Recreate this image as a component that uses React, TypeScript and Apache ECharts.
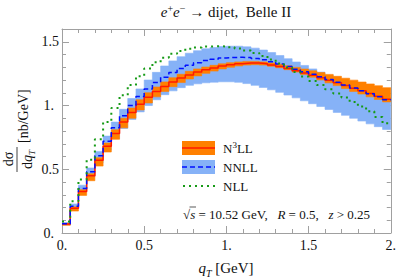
import React, { useEffect, useRef } from 'react';
import * as echarts from 'echarts';

// bin edges of q_T [GeV]
const binEdges: number[] = [
  0, 0.05, 0.1, 0.15, 0.2, 0.25, 0.3, 0.35, 0.4, 0.45, 0.5, 0.55, 0.6, 0.65, 0.7, 0.75, 0.8, 0.85, 0.9, 0.95,
  1.0, 1.05, 1.1, 1.15, 1.2, 1.25, 1.3, 1.35, 1.4, 1.45, 1.5, 1.55, 1.6, 1.65, 1.7, 1.75, 1.8, 1.85, 1.9, 1.95, 2.0,
];

const n3llCentral: number[] = [
  0.07, 0.195, 0.325, 0.45, 0.57, 0.68, 0.78, 0.87, 0.945, 1.01, 1.065, 1.11, 1.15, 1.185, 1.215, 1.24, 1.262, 1.28, 1.295, 1.31,
  1.32, 1.328, 1.333, 1.333, 1.328, 1.318, 1.305, 1.29, 1.272, 1.255, 1.237, 1.218, 1.198, 1.178, 1.157, 1.136, 1.115, 1.094, 1.072, 1.05,
];
const n3llLow: number[] = [
  0.06, 0.172, 0.295, 0.41, 0.525, 0.635, 0.735, 0.825, 0.9, 0.965, 1.02, 1.068, 1.11, 1.148, 1.18, 1.208, 1.232, 1.252, 1.27, 1.287,
  1.3, 1.31, 1.317, 1.32, 1.317, 1.308, 1.296, 1.281, 1.262, 1.243, 1.222, 1.2, 1.178, 1.156, 1.133, 1.11, 1.09, 1.068, 1.047, 1.028,
];
const n3llHigh: number[] = [
  0.076, 0.205, 0.34, 0.465, 0.59, 0.705, 0.81, 0.9, 0.98, 1.045, 1.1, 1.145, 1.185, 1.218, 1.245, 1.268, 1.287, 1.302, 1.315, 1.327,
  1.336, 1.342, 1.346, 1.346, 1.342, 1.334, 1.324, 1.312, 1.299, 1.286, 1.272, 1.258, 1.244, 1.229, 1.214, 1.199, 1.184, 1.169, 1.155, 1.14,
];

const nnllCentral: number[] = [
  0.073, 0.21, 0.35, 0.48, 0.605, 0.72, 0.825, 0.92, 1.0, 1.07, 1.13, 1.18, 1.222, 1.259, 1.29, 1.315, 1.336, 1.352, 1.363, 1.373,
  1.377, 1.378, 1.376, 1.369, 1.358, 1.343, 1.325, 1.306, 1.285, 1.265, 1.245, 1.225, 1.203, 1.182, 1.16, 1.138, 1.115, 1.092, 1.069, 1.045,
];
const nnllLow: number[] = [
  0.065, 0.198, 0.325, 0.44, 0.55, 0.65, 0.74, 0.82, 0.89, 0.95, 1.0, 1.045, 1.085, 1.115, 1.14, 1.158, 1.17, 1.178, 1.183, 1.186,
  1.186, 1.182, 1.172, 1.158, 1.142, 1.123, 1.103, 1.082, 1.06, 1.037, 1.014, 0.992, 0.969, 0.946, 0.923, 0.9, 0.878, 0.856, 0.834, 0.812,
];
const nnllHigh: number[] = [
  0.082, 0.228, 0.375, 0.51, 0.64, 0.76, 0.87, 0.97, 1.055, 1.13, 1.2, 1.26, 1.31, 1.35, 1.383, 1.41, 1.43, 1.445, 1.455, 1.462,
  1.465, 1.465, 1.46, 1.45, 1.435, 1.415, 1.392, 1.367, 1.341, 1.314, 1.287, 1.262, 1.237, 1.212, 1.187, 1.162, 1.137, 1.112, 1.087, 1.062,
];

const nllCentral: number[] = [
  0.09, 0.25, 0.42, 0.575, 0.735, 0.87, 0.98, 1.08, 1.16, 1.23, 1.29, 1.34, 1.375, 1.405, 1.428, 1.445, 1.455, 1.462, 1.465, 1.463,
  1.457, 1.447, 1.432, 1.412, 1.388, 1.36, 1.33, 1.298, 1.263, 1.228, 1.193, 1.16, 1.128, 1.095, 1.062, 1.028, 0.993, 0.955, 0.91, 0.86,
];

const xTickLabels: Record<string, string> = { '0': '0.', '0.5': '0.5', '1': '1.', '1.5': '1.5', '2': '2.' };
const yTickLabels: Record<string, string> = { '0': '{p|0.}', '0.5': '0.5', '1': '{p|1.}', '1.5': '1.5' };

const FONT = 'Liberation Serif';
const FRAME = '#a0a0a0';
const ORANGE = '#ff8000';
const RED = '#ff1a00';
const LIGHTBLUE = '#86b2f7';
const BLUE = '#0010ff';
const GREEN = '#169a16';

function stepData(vals: number[]): number[][] {
  const out: number[][] = vals.map((v, i) => [binEdges[i], v]);
  out.push([binEdges[vals.length], vals[vals.length - 1]]);
  return out;
}

function bandSeries(lo: number[], hi: number[], color: string, z: number) {
  return {
    type: 'custom',
    xAxisIndex: 0,
    yAxisIndex: 0,
    silent: true,
    clip: true,
    z,
    data: [[0, 0]],
    renderItem: (_params: any, api: any) => {
      const pts: number[][] = [];
      for (let i = 0; i < hi.length; i++) {
        pts.push(api.coord([binEdges[i], hi[i]]));
        pts.push(api.coord([binEdges[i + 1], hi[i]]));
      }
      for (let i = lo.length - 1; i >= 0; i--) {
        pts.push(api.coord([binEdges[i + 1], lo[i]]));
        pts.push(api.coord([binEdges[i], lo[i]]));
      }
      return { type: 'polygon', shape: { points: pts }, style: { fill: color, stroke: color, lineWidth: 0.6 } };
    },
  };
}

function xAxisCfg(position: 'bottom' | 'top', labels: boolean) {
  return {
    type: 'value',
    min: 0,
    max: 2,
    interval: 0.5,
    position,
    axisLine: { show: true, onZero: false, lineStyle: { color: FRAME, width: 1 } },
    axisTick: { show: true, inside: true, length: 7, lineStyle: { color: FRAME } },
    minorTick: { show: true, splitNumber: 5, length: 4, lineStyle: { color: FRAME } },
    splitLine: { show: false },
    axisLabel: {
      show: labels,
      margin: 5,
      fontFamily: FONT,
      fontSize: 14,
      color: '#111',
      formatter: (v: number) => xTickLabels[String(v)] ?? '',
    },
  };
}

function yAxisCfg(position: 'left' | 'right', interval: number, tickLen: number, labels: boolean, line: boolean) {
  return {
    type: 'value',
    min: 0,
    max: 1.6,
    interval,
    position,
    axisLine: { show: line, onZero: false, lineStyle: { color: FRAME, width: 1 } },
    axisTick: { show: true, inside: true, length: tickLen, lineStyle: { color: FRAME } },
    splitLine: { show: false },
    axisLabel: {
      show: labels,
      margin: 3,
      fontFamily: FONT,
      fontSize: 14,
      color: '#111',
      formatter: (v: number) => yTickLabels[String(v)] ?? '',
      rich: { p: { fontFamily: FONT, fontSize: 14, color: '#111', padding: [0, 5, 0, 0] } },
    },
  };
}

export default function App() {
  const ref = useRef<HTMLDivElement>(null);

  useEffect(() => {
    if (!ref.current) return;
    const chart = echarts.init(ref.current, undefined, { renderer: 'svg' });

    const option: any = {
      animation: false,
      backgroundColor: '#ffffff',
      grid: { left: 62, right: 7, top: 29, bottom: 46, containLabel: false },
      xAxis: [xAxisCfg('bottom', true), xAxisCfg('top', false)],
      yAxis: [
        yAxisCfg('left', 0.5, 7, true, true),
        yAxisCfg('left', 0.1, 4, false, false),
        yAxisCfg('right', 0.5, 7, false, true),
        yAxisCfg('right', 0.1, 4, false, false),
      ],
      series: [
        bandSeries(nnllLow, nnllHigh, LIGHTBLUE, 1),
        bandSeries(n3llLow, n3llHigh, ORANGE, 2),
        {
          type: 'line',
          name: 'N3LL',
          xAxisIndex: 0,
          yAxisIndex: 0,
          step: 'end',
          data: stepData(n3llCentral),
          showSymbol: false,
          symbol: 'none',
          lineStyle: { color: RED, width: 1.5 },
          z: 3,
        },
        {
          type: 'line',
          name: 'NNLL',
          xAxisIndex: 0,
          yAxisIndex: 0,
          step: 'end',
          data: stepData(nnllCentral),
          showSymbol: false,
          symbol: 'none',
          lineStyle: { color: BLUE, width: 1.5, type: [5, 3] },
          z: 4,
        },
        {
          type: 'line',
          name: 'NLL',
          xAxisIndex: 0,
          yAxisIndex: 0,
          step: 'end',
          data: stepData(nllCentral),
          showSymbol: false,
          symbol: 'none',
          lineStyle: { color: GREEN, width: 2, type: [2, 4] },
          z: 5,
        },
      ],
      graphic: [
        // title
        {
          type: 'text',
          x: 226,
          y: 12,
          style: {
            text: '{i|e}{s|+}{i|e}{s|−}{n| → dijet,  Belle II}',
            align: 'center',
            verticalAlign: 'middle',
            rich: {
              i: { fontFamily: FONT, fontSize: 15, fontStyle: 'italic', lineHeight: 18, fill: '#111' },
              s: { fontFamily: FONT, fontSize: 10, lineHeight: 10, verticalAlign: 'top', fill: '#111' },
              n: { fontFamily: FONT, fontSize: 15, lineHeight: 18, fill: '#111' },
            },
          },
        },
        // y axis label
        {
          type: 'group',
          x: 17,
          y: 145,
          rotation: Math.PI / 2,
          children: [
            {
              type: 'text',
              x: -14,
              y: -1.5,
              style: { text: 'dσ', fontFamily: FONT, fontSize: 14, align: 'center', verticalAlign: 'bottom', fill: '#111' },
            },
            { type: 'line', shape: { x1: -27, y1: 0, x2: -2, y2: 0 }, style: { stroke: '#111', lineWidth: 0.8 } },
            {
              type: 'text',
              x: -14.5,
              y: 1,
              style: {
                text: '{n|d}{i|q}{b|T}',
                align: 'center',
                verticalAlign: 'top',
                rich: {
                  n: { fontFamily: FONT, fontSize: 14, lineHeight: 18, fill: '#111' },
                  i: { fontFamily: FONT, fontSize: 14, fontStyle: 'italic', lineHeight: 18, fill: '#111' },
                  b: { fontFamily: FONT, fontSize: 9, fontStyle: 'italic', lineHeight: 9, verticalAlign: 'bottom', fill: '#111' },
                },
              },
            },
            {
              type: 'text',
              x: 2,
              y: 6,
              style: { text: '[nb/GeV]', fontFamily: FONT, fontSize: 14, align: 'left', verticalAlign: 'middle', fill: '#111' },
            },
          ],
        },
        // x axis label
        {
          type: 'text',
          x: 226,
          y: 268,
          style: {
            text: '{i|q}{b|T}{n| [GeV]}',
            align: 'center',
            verticalAlign: 'middle',
            rich: {
              i: { fontFamily: FONT, fontSize: 15, fontStyle: 'italic', lineHeight: 20, fill: '#111' },
              b: { fontFamily: FONT, fontSize: 10, fontStyle: 'italic', lineHeight: 11, verticalAlign: 'bottom', fill: '#111' },
              n: { fontFamily: FONT, fontSize: 15, lineHeight: 20, fill: '#111' },
            },
          },
        },
        // legend
        { type: 'rect', shape: { x: 182, y: 141, width: 33, height: 14 }, style: { fill: ORANGE } },
        { type: 'line', shape: { x1: 182, y1: 148, x2: 215, y2: 148 }, style: { stroke: RED, lineWidth: 1.5 } },
        { type: 'rect', shape: { x: 182, y: 160, width: 33, height: 14 }, style: { fill: LIGHTBLUE } },
        { type: 'line', shape: { x1: 182, y1: 167, x2: 215, y2: 167 }, style: { stroke: BLUE, lineWidth: 1.5, lineDash: [5, 3] } },
        { type: 'line', shape: { x1: 183, y1: 186, x2: 215, y2: 186 }, style: { stroke: GREEN, lineWidth: 2, lineDash: [2, 4] } },
        {
          type: 'text',
          x: 223,
          y: 148,
          style: {
            text: '{n|N}{s|3}{n|LL}',
            verticalAlign: 'middle',
            rich: {
              n: { fontFamily: FONT, fontSize: 13, lineHeight: 16, fill: '#111' },
              s: { fontFamily: FONT, fontSize: 9, lineHeight: 9, verticalAlign: 'top', fill: '#111' },
            },
          },
        },
        { type: 'text', x: 223, y: 167, style: { text: 'NNLL', fontFamily: FONT, fontSize: 13, verticalAlign: 'middle', fill: '#111' } },
        { type: 'text', x: 223, y: 186, style: { text: 'NLL', fontFamily: FONT, fontSize: 13, verticalAlign: 'middle', fill: '#111' } },
        // annotation
        {
          type: 'text',
          x: 183,
          y: 214,
          style: {
            text: '{n|√}{i|s}{n| = 10.52 GeV,   }{i|R}{n| = 0.5,   }{i|z}{n| > 0.25}',
            verticalAlign: 'middle',
            rich: {
              n: { fontFamily: FONT, fontSize: 13, lineHeight: 16, fill: '#111' },
              i: { fontFamily: FONT, fontSize: 13, fontStyle: 'italic', lineHeight: 16, fill: '#111' },
            },
          },
        },
        { type: 'line', shape: { x1: 189.5, y1: 207, x2: 196, y2: 207 }, style: { stroke: '#111', lineWidth: 0.7 } },
      ],
    };

    chart.setOption(option);
    return () => chart.dispose();
  }, []);

  return (
    <div
      ref={ref}
      style={{ position: 'fixed', left: 0, top: 0, width: 399, height: 279, background: '#fff' }}
    />
  );
}
